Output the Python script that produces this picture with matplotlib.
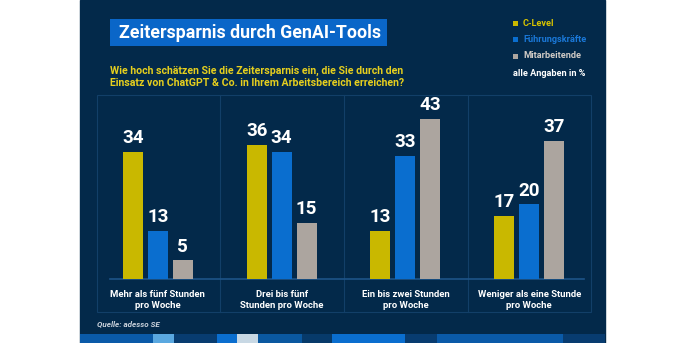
import matplotlib
matplotlib.use("Agg")
import matplotlib.pyplot as plt
from matplotlib.patches import Rectangle

plt.rcParams['font.family'] = ['Liberation Sans Narrow', 'Roboto', 'DejaVu Sans']

# daten
kategorien = ["Mehr als fünf Stunden\npro Woche", "Drei bis fünf\nStunden pro Woche",
              "Ein bis zwei Stunden\npro Woche", "Weniger als eine Stunde\npro Woche"]
serien = ["C-Level", "Führungskräfte", "Mitarbeitende"]
c_level = [34, 36, 13, 17]
fuehrung = [13, 34, 33, 20]
mitarbeiter = [5, 15, 43, 37]

titel = "Zeitersparnis durch GenAI-Tools"
frage = ("Wie hoch schätzen Sie die Zeitersparnis ein, die Sie durch den\n"
         "Einsatz von ChatGPT & Co. in Ihrem Arbeitsbereich erreichen?")
quelle = "Quelle: adesso SE"

NAVY = "#03294a"
LINIE = "#123f68"
farben = ["#c9b800", "#0a6ecf", "#aca59f"]
legend_text = ["#d8c400", "#1a78d8", "#d0cbc6"]

W, H = 686, 343
fig = plt.figure(figsize=(W / 100, H / 100), dpi=100, facecolor="white")

# hintergrund in pixelkoordinaten
bg = fig.add_axes([0, 0, 1, 1])
bg.set_xlim(0, W)
bg.set_ylim(H, 0)
bg.axis("off")
bg.add_patch(Rectangle((80, 0), 525, 343, color=NAVY, zorder=0))

# streifen unten
streifen = [(80, 153, "#0a5aa8"), (153, 174, "#5aa8e0"), (174, 217, "#083c70"),
            (217, 237, "#0a6ecf"), (237, 258, "#c8d8e4"), (258, 302, "#0a58a0"),
            (302, 332, "#073a6a"), (332, 405, "#0a6ecf"), (405, 437, "#083c70"),
            (437, 563, "#0a5aa8"), (563, 605, "#083c70")]
for x0, x1, c in streifen:
    bg.add_patch(Rectangle((x0, 334), x1 - x0, 9, color=c, lw=0, zorder=1))

# titel
bg.add_patch(Rectangle((110, 19), 277, 27, color="#0a66c8", lw=0, zorder=1))
bg.text(119, 33, titel, color="white", fontsize=12.8, fontweight="bold",
        va="center", ha="left", zorder=2)
bg.text(110, 77, frage, color="#e6cf1e", fontsize=7.6, fontweight="bold",
        va="center", ha="left", linespacing=1.25, zorder=2)

# legende
for i, (s, c, tc) in enumerate(zip(serien, farben, legend_text)):
    y = 23 + i * 16.5
    bg.add_patch(Rectangle((513, y - 2.5), 5, 5, color=c, lw=0, zorder=2))
    bg.text(523, y, s, color=tc, fontsize=6.6, fontweight="bold", va="center", zorder=2)
bg.text(513, 73, "alle Angaben in %", color="white", fontsize=6.6,
        fontweight="bold", va="center", zorder=2)

# rahmen und trenner
bg.add_patch(Rectangle((97, 95), 494, 217, fill=False, ec=LINIE, lw=0.8, zorder=1))
for x in (220, 344, 468):
    bg.plot([x, x], [95, 312], color=LINIE, lw=0.8, zorder=1)
bg.plot([110, 584], [279, 279], color="#1d5488", lw=1.2, zorder=3)

bg.text(97, 324, quelle, color="#c8d0da", fontsize=5.8, fontstyle="italic",
        fontweight="bold", va="center", zorder=2)

# balken
px = 123.75
ax = fig.add_axes([96 / W, (H - 279) / H, 4 * px / W, 184 / H])
ax.set_facecolor("none")
ax.set_xlim(-0.5, 3.5)
ax.set_ylim(0, 184 / 3.73)
ax.axis("off")

breite = 20 / px
abstand = 25 / px
for j, (werte, c) in enumerate(zip([c_level, fuehrung, mitarbeiter], farben)):
    xs = [i + (j - 1) * abstand for i in range(len(werte))]
    ax.bar(xs, werte, width=breite, color=c, zorder=2)
    for x, v in zip(xs, werte):
        ax.text(x, v + 1.3, str(v), color="white", fontsize=13.5, fontweight="bold",
                ha="center", va="bottom")

for i, k in enumerate(kategorien):
    ax.text(i, -3.0, k, color="white", fontsize=6.8, fontweight="bold",
            ha="center", va="top", linespacing=1.3)

fig.savefig("out.png", dpi=100, facecolor="white")
